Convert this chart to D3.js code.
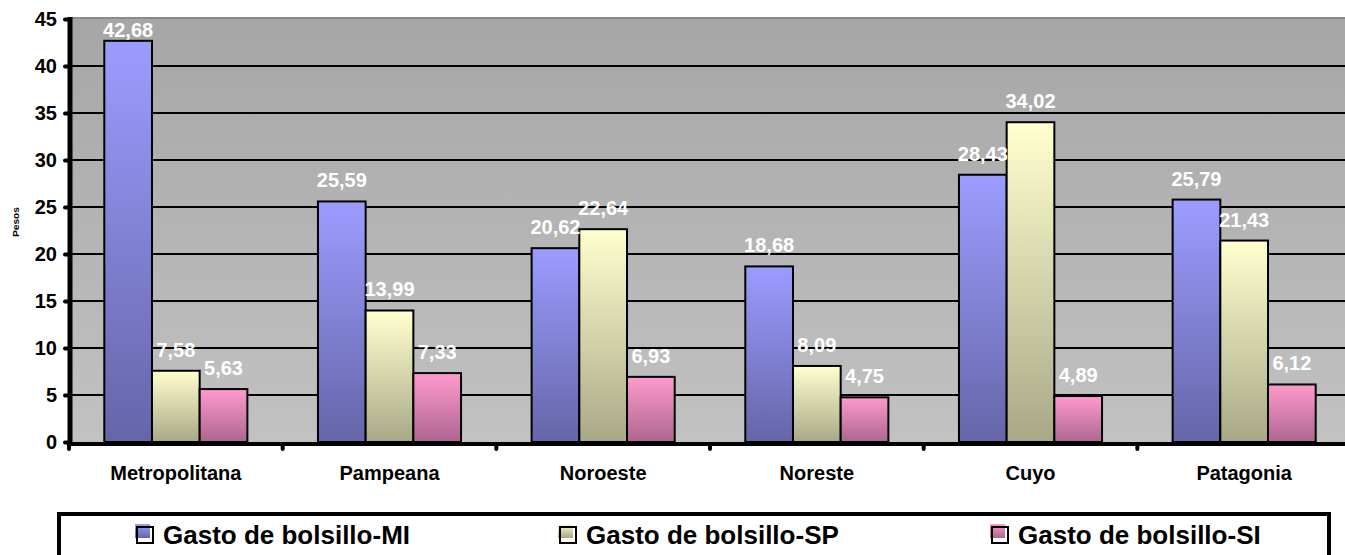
<!DOCTYPE html>
<html>
<head>
<meta charset="utf-8">
<script src="https://cdn.jsdelivr.net/npm/d3@7"></script>
<style>
  html, body { margin: 0; padding: 0; background: #ffffff; }
  svg { display: block; font-family: "Liberation Sans", Arial, sans-serif; }
</style>
</head>
<body>
<svg id="chart" width="1345" height="555"></svg>
<script>
// Regions and the three out-of-pocket spending series
const regions = ["Metropolitana", "Pampeana", "Noroeste", "Noreste", "Cuyo", "Patagonia"];
const seriesNames = ["Gasto de bolsillo-MI", "Gasto de bolsillo-SP", "Gasto de bolsillo-SI"];
const gastoMI = [42.68, 25.59, 20.62, 18.68, 28.43, 25.79];
const gastoSP = [7.58, 13.99, 22.64, 8.09, 34.02, 21.43];
const gastoSI = [5.63, 7.33, 6.93, 4.75, 4.89, 6.12];
const yTicks = [0, 5, 10, 15, 20, 25, 30, 35, 40, 45];
const yTitle = "Pesos";

const seriesValues = [gastoMI, gastoSP, gastoSI];
// light (top) and dark (bottom) shade of each series' bar fill
const seriesShades = [
  ["#9c9cff", "#6565a8"],
  ["#ffffcf", "#a8a888"],
  ["#ff9acd", "#ad6690"]
];

const svg = d3.select("#chart");
const defs = svg.append("defs");

const plotLeft = 69, plotRight = 1351, plotTop = 19, plotBottom = 442;

const x0 = d3.scaleBand().domain(regions).range([plotLeft, plotRight]);
const x1 = d3.scaleBand().domain(d3.range(3)).range([0, x0.bandwidth()]).paddingOuter(0.74);
const y = d3.scaleLinear().domain([0, 45]).range([plotBottom, plotTop]);

const es = d3.formatLocale({ decimal: ",", thousands: ".", grouping: [3], currency: ["", ""] });
const fmt = es.format(".2f");

// gradients
const bg = defs.append("linearGradient").attr("id", "bg").attr("x1", 0).attr("y1", 0).attr("x2", 0).attr("y2", 1);
bg.append("stop").attr("offset", "0%").attr("stop-color", "#a6a6a6");
bg.append("stop").attr("offset", "100%").attr("stop-color", "#c2c2c2");

seriesShades.forEach((s, i) => {
  const g = defs.append("linearGradient").attr("id", "bar" + i)
    .attr("x1", 0).attr("y1", 0).attr("x2", 0).attr("y2", 1);
  g.append("stop").attr("offset", "0%").attr("stop-color", s[0]);
  g.append("stop").attr("offset", "100%").attr("stop-color", s[1]);
});

// plot area
svg.append("rect")
  .attr("x", plotLeft).attr("y", plotTop - 1)
  .attr("width", plotRight - plotLeft).attr("height", plotBottom - plotTop + 1)
  .attr("fill", "url(#bg)");
svg.append("line")
  .attr("x1", plotLeft).attr("x2", plotRight).attr("y1", plotTop - 1).attr("y2", plotTop - 1)
  .attr("stroke", "#8a8a8a").attr("stroke-width", 2);

// gridlines
svg.append("g").selectAll("line")
  .data(yTicks.filter(t => t > 0 && t < 45))
  .join("line")
  .attr("x1", plotLeft).attr("x2", plotRight)
  .attr("y1", d => y(d)).attr("y2", d => y(d))
  .attr("stroke", "#000").attr("stroke-width", 2);

// bars
const groups = svg.append("g").selectAll("g")
  .data(regions)
  .join("g")
  .attr("transform", d => `translate(${x0(d)},0)`);

groups.each(function (region, ri) {
  const g = d3.select(this);
  seriesValues.forEach((vals, si) => {
    const v = vals[ri];
    g.append("rect")
      .attr("x", x1(si)).attr("y", y(v))
      .attr("width", x1.bandwidth()).attr("height", y(0) - y(v))
      .attr("fill", `url(#bar${si})`)
      .attr("stroke", "#000").attr("stroke-width", 2);
  });
  seriesValues.forEach((vals, si) => {
    const v = vals[ri];
    // value label above the bar, kept inside the plot area
    g.append("text")
      .attr("x", x1(si) + x1.bandwidth() / 2)
      .attr("y", Math.max(y(v) - 14, plotTop + 18))
      .attr("text-anchor", "middle")
      .attr("font-size", 20).attr("font-weight", "bold")
      .attr("fill", "#fff")
      .text(fmt(v));
  });
});

// y axis
const yAxis = d3.axisLeft(y).tickValues(yTicks).tickSize(5).tickPadding(8).tickFormat(d3.format("d"));
const ya = svg.append("g").attr("transform", `translate(${plotLeft + 1},0)`).call(yAxis);
ya.select(".domain").remove();
ya.selectAll(".tick line").attr("stroke", "#000").attr("stroke-width", 4).attr("stroke-linecap", "round");
ya.selectAll(".tick text").attr("font-size", 20).attr("font-weight", "bold").attr("fill", "#000")
  .attr("font-family", "'Liberation Sans', Arial, sans-serif");
svg.append("line")
  .attr("x1", plotLeft + 1).attr("x2", plotLeft + 1).attr("y1", plotTop - 2).attr("y2", plotBottom + 4)
  .attr("stroke", "#000").attr("stroke-width", 5);

// x axis
const xa = svg.append("g").attr("transform", `translate(0,${plotBottom + 2})`);
xa.selectAll("line.tk")
  .data(regions.map(r => x0(r)).concat([plotRight]))
  .join("line")
  .attr("class", "tk")
  .attr("x1", d => d).attr("x2", d => d).attr("y1", 0).attr("y2", 5)
  .attr("stroke", "#000").attr("stroke-width", 4).attr("stroke-linecap", "round");
xa.append("line")
  .attr("x1", plotLeft - 1).attr("x2", plotRight).attr("y1", 0).attr("y2", 0)
  .attr("stroke", "#000").attr("stroke-width", 4);
xa.selectAll("text")
  .data(regions)
  .join("text")
  .attr("x", d => x0(d) + x0.bandwidth() / 2)
  .attr("y", 36)
  .attr("text-anchor", "middle")
  .attr("font-size", 20).attr("font-weight", "bold").attr("fill", "#000")
  .text(d => d);

// y title
svg.append("text")
  .attr("transform", "translate(19,222) rotate(-90)")
  .attr("text-anchor", "middle")
  .attr("font-size", 9).attr("font-weight", "bold")
  .attr("textLength", 30).attr("lengthAdjust", "spacingAndGlyphs")
  .text(yTitle);

// legend
svg.append("rect")
  .attr("x", 59).attr("y", 514).attr("width", 1270).attr("height", 60)
  .attr("fill", "#fff").attr("stroke", "#000").attr("stroke-width", 4);

const legendX = [136, 559, 991];
seriesNames.forEach((name, i) => {
  const lx = legendX[i];
  svg.append("rect")
    .attr("x", lx - 1).attr("y", 524).attr("width", 15).attr("height", 14)
    .attr("fill", `url(#bar${i})`);
  svg.append("rect")
    .attr("x", lx + 1).attr("y", 527).attr("width", 16).attr("height", 16)
    .attr("fill", "none").attr("stroke", "#000").attr("stroke-width", 2);
  svg.append("text")
    .attr("x", lx + 27).attr("y", 544)
    .attr("font-size", 26).attr("font-weight", "bold").attr("fill", "#000")
    .text(name);
});
</script>
</body>
</html>
